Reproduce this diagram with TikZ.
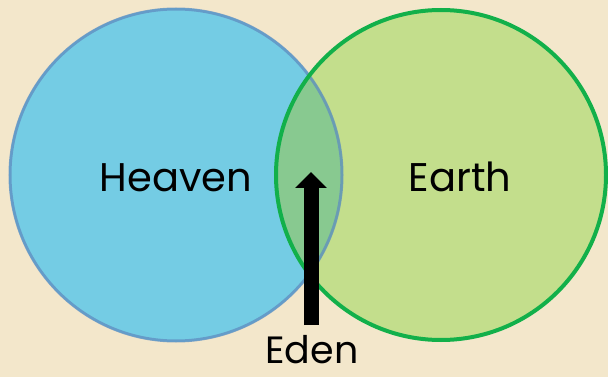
\documentclass[tikz,border=0pt]{standalone}
\usepackage{fontspec}
\setmainfont{Poppins}
\usetikzlibrary{arrows.meta}
\definecolor{parch}{HTML}{F3E7CB}
\definecolor{heavenfill}{HTML}{74CCE4}
\definecolor{heavenline}{HTML}{5F8DC0}
\definecolor{earthfill}{HTML}{C3DE8C}
\definecolor{edenfill}{HTML}{88C990}
\definecolor{earthline}{HTML}{12B04A}
\tikzset{
  lbl/.style={font=\fontsize{40}{46}\selectfont, text=black, inner sep=0pt, anchor=base},
  fatarrow/.style={line width=15pt, -{Triangle[width=31pt,length=16pt]}, black}
}
\begin{document}
\begin{tikzpicture}[x=1pt,y=-1pt]
\fill[parch] (0,0) rectangle (608,377);
\useasboundingbox (0,0) rectangle (608,377);
\coordinate (hc) at (176,175);
\coordinate (ec) at (441,175);
\fill[heavenfill] (hc) circle[radius=167];
\fill[earthfill] (ec) circle[radius=165];
\begin{scope}
  \clip (hc) circle[radius=167];
  \fill[edenfill] (ec) circle[radius=165];
\end{scope}
\draw[heavenline, line width=3pt, opacity=0.75] (hc) circle[radius=166];
\draw[earthline, line width=4pt] (ec) circle[radius=165];
\node[lbl] (heaven) at (176,192) {Heaven};
\node[lbl] (earth) at (460,192) {Earth};
\node[lbl, font=\fontsize{38}{44}\selectfont] (eden) at (312,363) {Eden};
\coordinate (tail) at (311,325);
\coordinate (tip) at (311,172);
\draw[fatarrow] (tail) -- (tip);
\end{tikzpicture}
\end{document}
